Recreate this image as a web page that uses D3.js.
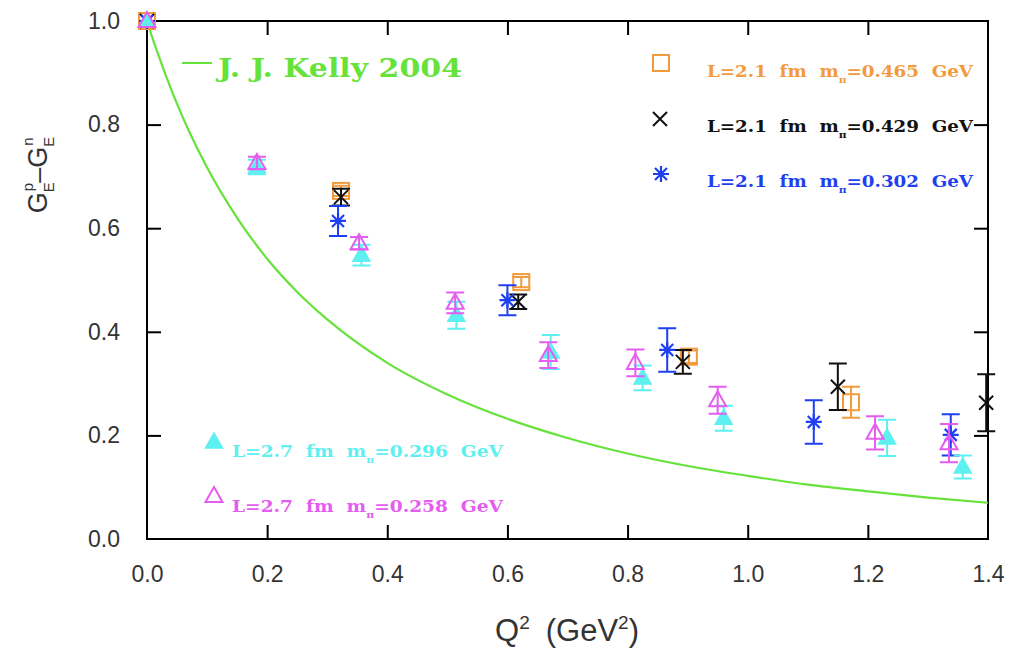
<!DOCTYPE html>
<html>
<head>
<meta charset="utf-8">
<script src="https://cdn.jsdelivr.net/npm/d3@7"></script>
<style>
  body { margin: 0; background: #fff; }
  svg { display: block; }
</style>
</head>
<body>
<svg id="chart"></svg>
<script>
// Kelly 2004 curve
const kellyQ2 = [0, 0.01, 0.02, 0.03, 0.05, 0.07, 0.1, 0.15, 0.2, 0.25, 0.3, 0.4, 0.5, 0.6, 0.7, 0.8, 0.9, 1.0, 1.1, 1.2, 1.3, 1.4];
const kellyVal = [1.0, 0.964, 0.931, 0.899, 0.840, 0.787, 0.717, 0.620, 0.541, 0.477, 0.424, 0.340, 0.279, 0.232, 0.195, 0.165, 0.141, 0.122, 0.105, 0.092, 0.080, 0.070];

// L=2.1 fm, m_pi=0.465 GeV (orange squares)
const q465 = [0, 0.323, 0.623, 0.902, 1.172];
const v465 = [1.0, 0.672, 0.496, 0.352, 0.264];
const e465 = [0, 0.01, 0.01, 0.012, 0.03];

// L=2.1 fm, m_pi=0.429 GeV (black crosses)
const q429 = [0, 0.323, 0.618, 0.892, 1.15, 1.397];
const v429 = [1.0, 0.660, 0.458, 0.342, 0.294, 0.263];
const e429 = [0, 0.016, 0.014, 0.023, 0.045, 0.055];

// L=2.1 fm, m_pi=0.302 GeV (blue asterisks)
const q302 = [0, 0.318, 0.600, 0.866, 1.110, 1.338];
const v302 = [1.0, 0.614, 0.461, 0.365, 0.226, 0.201];
const e302 = [0, 0.029, 0.029, 0.042, 0.042, 0.040];

// L=2.7 fm, m_pi=0.296 GeV (cyan filled triangles)
const q296 = [0, 0.183, 0.357, 0.515, 0.672, 0.825, 0.960, 1.232, 1.358];
const v296 = [1.0, 0.718, 0.548, 0.432, 0.361, 0.311, 0.233, 0.195, 0.139];
const e296 = [0, 0.014, 0.020, 0.026, 0.033, 0.024, 0.024, 0.035, 0.022];

// L=2.7 fm, m_pi=0.258 GeV (magenta open triangles)
const q258 = [0, 0.183, 0.353, 0.513, 0.668, 0.813, 0.950, 1.212, 1.335];
const v258 = [1.0, 0.726, 0.571, 0.456, 0.355, 0.340, 0.268, 0.205, 0.185];
const e258 = [0, 0.012, 0.012, 0.020, 0.025, 0.026, 0.026, 0.032, 0.037];

const xTicks = [0, 0.2, 0.4, 0.6, 0.8, 1.0, 1.2, 1.4];
const yTicks = [0, 0.2, 0.4, 0.6, 0.8, 1.0];

const W = 1012, H = 650;
const plotL = 147, plotR = 988, plotT = 21, plotB = 539;

const svg = d3.select("#chart").attr("width", W).attr("height", H);

const x = d3.scaleLinear().domain([0, 1.4]).range([plotL, plotR]);
const y = d3.scaleLinear().domain([0, 1]).range([plotB, plotT]);

const ORANGE = "#f29a3c", BLACK = "#111", BLUE = "#1f3ff2", CYAN = "#5ef0f0", MAGENTA = "#e55cf0", GREEN = "#66e33a";

// axes, ticks inward on all four sides
const tickFont = "'Liberation Sans', Arial, sans-serif";
const gx = svg.append("g").attr("transform", `translate(0,${plotB})`)
  .call(d3.axisBottom(x).tickValues(xTicks).tickFormat(d3.format(".1f")).tickSize(-14).tickPadding(27));
const gy = svg.append("g").attr("transform", `translate(${plotL},0)`)
  .call(d3.axisLeft(y).tickValues(yTicks).tickFormat(d3.format(".1f")).tickSize(-14).tickPadding(27));
const gt = svg.append("g").attr("transform", `translate(0,${plotT})`)
  .call(d3.axisTop(x).tickValues(xTicks.slice(1, -1)).tickSize(-14).tickFormat(""));
const gr = svg.append("g").attr("transform", `translate(${plotR},0)`)
  .call(d3.axisRight(y).tickValues(yTicks.slice(1, -1)).tickSize(-14).tickFormat(""));

[gx, gy, gt, gr].forEach(g => {
  g.select(".domain").remove();
  g.selectAll(".tick line").attr("stroke", "#000").attr("stroke-width", 2);
  g.selectAll(".tick text").attr("font-family", tickFont).attr("font-size", 23).attr("fill", "#333");
});
gx.selectAll(".tick").filter(d => d === 0 || d === 1.4).select("line").remove();
gy.selectAll(".tick").filter(d => d === 0 || d === 1).select("line").remove();

svg.append("rect")
  .attr("x", plotL).attr("y", plotT)
  .attr("width", plotR - plotL).attr("height", plotB - plotT)
  .attr("fill", "none").attr("stroke", "#000").attr("stroke-width", 2);

// axis titles
const xt = svg.append("text")
  .attr("x", 567).attr("y", 641)
  .attr("text-anchor", "middle")
  .attr("font-family", tickFont).attr("font-size", 31).attr("fill", "#333");
xt.append("tspan").text("Q");
xt.append("tspan").attr("dy", -12).attr("font-size", 19).text("2");
xt.append("tspan").attr("dy", 12).attr("dx", 16).text("(GeV");
xt.append("tspan").attr("dy", -12).attr("font-size", 19).text("2");
xt.append("tspan").attr("dy", 12).text(")");

const yt = svg.append("text")
  .attr("transform", "translate(47,175) rotate(-90)")
  .attr("text-anchor", "middle")
  .attr("font-family", tickFont).attr("font-size", 27).attr("fill", "#333");
yt.append("tspan").text("G");
yt.append("tspan").attr("dy", 7).attr("font-size", 15).text("E");
yt.append("tspan").attr("dx", -9).attr("dy", -21).attr("font-size", 15).text("p");
yt.append("tspan").attr("dy", 14).text("\u2013G");
yt.append("tspan").attr("dy", 7).attr("font-size", 15).text("E");
yt.append("tspan").attr("dx", -9).attr("dy", -21).attr("font-size", 15).text("n");

// Kelly curve
const line = d3.line().x((d, i) => x(kellyQ2[i])).y(d => y(d)).curve(d3.curveMonotoneX);
svg.append("path").datum(kellyVal)
  .attr("d", line).attr("fill", "none").attr("stroke", GREEN).attr("stroke-width", 2.2);

// markers
function marker(g, kind, color) {
  if (kind === "square") {
    g.append("rect").attr("x", -8).attr("y", -8).attr("width", 16).attr("height", 16)
      .attr("fill", "none").attr("stroke", color).attr("stroke-width", 2);
  } else if (kind === "cross") {
    g.append("path").attr("d", "M-7,-7L7,7M-7,7L7,-7").attr("stroke", color).attr("stroke-width", 2);
  } else if (kind === "star") {
    g.append("path").attr("d", "M0,-8V8M-8,0H8M-6,-6L6,6M-6,6L6,-6").attr("stroke", color).attr("stroke-width", 2.2);
  } else if (kind === "tri") {
    g.append("path").attr("d", "M0,-9L8.5,6H-8.5Z").attr("fill", color).attr("stroke", color).attr("stroke-width", 1.5);
  } else if (kind === "otri") {
    g.append("path").attr("d", "M0,-9L8.5,6H-8.5Z").attr("fill", "none").attr("stroke", color).attr("stroke-width", 2);
  }
}

function series(qs, vs, es, kind, color) {
  const g = svg.append("g");
  qs.forEach((q, i) => {
    const px = x(q), py = y(vs[i]);
    if (es[i] > 0) {
      const y1 = y(vs[i] + es[i]), y2 = y(vs[i] - es[i]);
      g.append("path")
        .attr("d", `M${px},${y1}V${y2}M${px - 9},${y1}H${px + 9}M${px - 9},${y2}H${px + 9}`)
        .attr("stroke", color).attr("stroke-width", 2).attr("fill", "none");
    }
    marker(g.append("g").attr("transform", `translate(${px},${py})`), kind, color);
  });
}

series(q465, v465, e465, "square", ORANGE);
series(q429, v429, e429, "cross", BLACK);
series(q302, v302, e302, "star", BLUE);
series(q296, v296, e296, "tri", CYAN);
series(q258, v258, e258, "otri", MAGENTA);

// legends
const legFont = "'DejaVu Serif', 'Liberation Serif', serif";
svg.append("line").attr("x1", 182).attr("x2", 212).attr("y1", 63).attr("y2", 63)
  .attr("stroke", GREEN).attr("stroke-width", 2);
svg.append("text").attr("x", 218).attr("y", 77)
  .attr("font-family", legFont).attr("font-weight", "bold").attr("font-size", 26)
  .attr("fill", GREEN).attr("textLength", 244).attr("lengthAdjust", "spacingAndGlyphs")
  .text("J. J. Kelly 2004");

const legends = [
  { kind: "square", color: ORANGE, mx: 661, my: 63, tx: 707, ty: 77, len: 266, mass: "0.465", L: "2.1" },
  { kind: "cross", color: BLACK, mx: 660, my: 119, tx: 707, ty: 132, len: 266, mass: "0.429", L: "2.1" },
  { kind: "star", color: BLUE, mx: 661, my: 174, tx: 707, ty: 187, len: 266, mass: "0.302", L: "2.1" },
  { kind: "tri", color: CYAN, mx: 214, my: 442, tx: 232, ty: 457, len: 271, mass: "0.296", L: "2.7" },
  { kind: "otri", color: MAGENTA, mx: 214, my: 496, tx: 232, ty: 512, len: 271, mass: "0.258", L: "2.7" }
];
legends.forEach(l => {
  marker(svg.append("g").attr("transform", `translate(${l.mx},${l.my})`), l.kind, l.color);
  const t = svg.append("text").attr("x", l.tx).attr("y", l.ty)
    .attr("font-family", legFont).attr("font-weight", "bold").attr("font-size", 17)
    .attr("fill", l.color).attr("textLength", l.len).attr("lengthAdjust", "spacingAndGlyphs")
    .attr("xml:space", "preserve");
  t.append("tspan").text(`L=${l.L}  fm  m`);
  t.append("tspan").attr("dy", 6).attr("font-size", 10).text("\u03c0");
  t.append("tspan").attr("dy", -6).text(`=${l.mass}  GeV`);
});
</script>
</body>
</html>
